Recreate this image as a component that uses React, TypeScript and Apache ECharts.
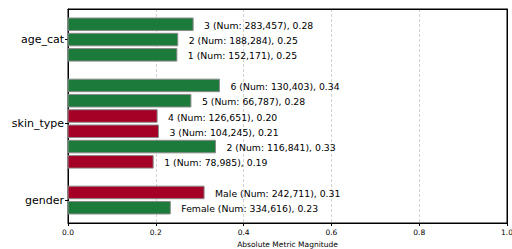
import React, { useEffect, useRef } from "react";
import * as echarts from "echarts";

const labels = [
  "3 (Num: 283,457), 0.28",
  "2 (Num: 188,284), 0.25",
  "1 (Num: 152,171), 0.25",
  "6 (Num: 130,403), 0.34",
  "5 (Num: 66,787), 0.28",
  "4 (Num: 126,651), 0.20",
  "3 (Num: 104,245), 0.21",
  "2 (Num: 116,841), 0.33",
  "1 (Num: 78,985), 0.19",
  "Male (Num: 242,711), 0.31",
  "Female (Num: 334,616), 0.23",
];
const values = [0.285, 0.25, 0.248, 0.345, 0.28, 0.203, 0.206, 0.336, 0.194, 0.31, 0.233];
const positions = [13, 12, 11, 9, 8, 7, 6, 5, 4, 2, 1];
const signs = ["pos", "pos", "pos", "pos", "pos", "neg", "neg", "pos", "neg", "neg", "pos"];
const groupNames = ["age_cat", "skin_type", "gender"];
const groupCenters = [12, 6.5, 1.5];

const GREEN = "#1c7a3a";
const RED = "#a50026";

export default function App() {
  const ref = useRef<HTMLDivElement>(null);
  useEffect(() => {
    const chart = echarts.init(ref.current!, null, { renderer: "svg" });
    const data = values.map((v, i) => [v, positions[i], i]);
    const frame = { show: true, onZero: false, lineStyle: { color: "#000", width: 1 } };
    chart.setOption({
      animation: false,
      grid: {
        left: 68,
        right: 5,
        top: 9,
        bottom: 26,
        outerBoundsMode: "none",
        containLabel: false,
        show: true,
        borderColor: "#000",
        borderWidth: 1,
        backgroundColor: "rgba(0,0,0,0)",
      },
      xAxis: [
        {
          type: "value",
          min: 0,
          max: 1,
          interval: 0.2,
          name: "Absolute Metric Magnitude",
          nameLocation: "middle",
          nameGap: 16,
          nameTextStyle: { fontSize: 7.5, color: "#000", fontFamily: "DejaVu Sans" },
          axisLine: frame,
          axisTick: { show: true, length: 3, lineStyle: { color: "#000" } },
          axisLabel: {
            fontSize: 7.5,
            color: "#000",
            fontFamily: "DejaVu Sans",
            margin: 5,
            formatter: (v: number) => v.toFixed(1),
          },
          splitLine: { show: true, lineStyle: { color: "#c8c8c8", type: [3, 2], width: 0.8 } },
        },
        {
          type: "value",
          position: "top",
          min: 0,
          max: 1,
          axisLine: frame,
          axisTick: { show: false },
          axisLabel: { show: false },
          splitLine: { show: false },
        },
      ],
      yAxis: [
        {
          type: "value",
          min: 0,
          max: 14,
          axisLine: frame,
          axisTick: { show: true, length: 3, customValues: groupCenters, lineStyle: { color: "#000" } },
          axisLabel: {
            customValues: groupCenters,
            fontSize: 11,
            color: "#000",
            fontFamily: "DejaVu Sans",
            margin: 4,
            formatter: (v: number) => {
              const idx = groupCenters.indexOf(v);
              return idx >= 0 ? groupNames[idx] : "";
            },
          },
          splitLine: { show: false },
        },
        {
          type: "value",
          position: "right",
          min: 0,
          max: 14,
          axisLine: frame,
          axisTick: { show: false },
          axisLabel: { show: false },
          splitLine: { show: false },
        },
      ],
      series: [
        {
          type: "custom",
          data,
          clip: false,
          renderItem: (params: any, api: any) => {
            const v = api.value(0);
            const y = api.value(1);
            const idx = api.value(2);
            const p0 = api.coord([0, y + 0.41]);
            const p1 = api.coord([v, y - 0.41]);
            const color = signs[idx] === "pos" ? GREEN : RED;
            return {
              type: "group",
              children: [
                {
                  type: "rect",
                  shape: { x: p0[0], y: p0[1], width: p1[0] - p0[0], height: p1[1] - p0[1] },
                  style: { fill: color, stroke: "#8a8a8a", lineWidth: 1 },
                },
                {
                  type: "text",
                  x: p1[0] + 11,
                  y: (p0[1] + p1[1]) / 2 + 1,
                  style: {
                    text: labels[idx],
                    fontSize: 9.3,
                    fontFamily: "DejaVu Sans",
                    fill: "#000",
                    textAlign: "left",
                    textVerticalAlign: "middle",
                  },
                },
              ],
            };
          },
        },
      ],
    });
    return () => chart.dispose();
  }, []);
  return (
    <div
      ref={ref}
      style={{ position: "absolute", left: 0, top: 0, width: 512, height: 249, background: "#fff" }}
    />
  );
}
